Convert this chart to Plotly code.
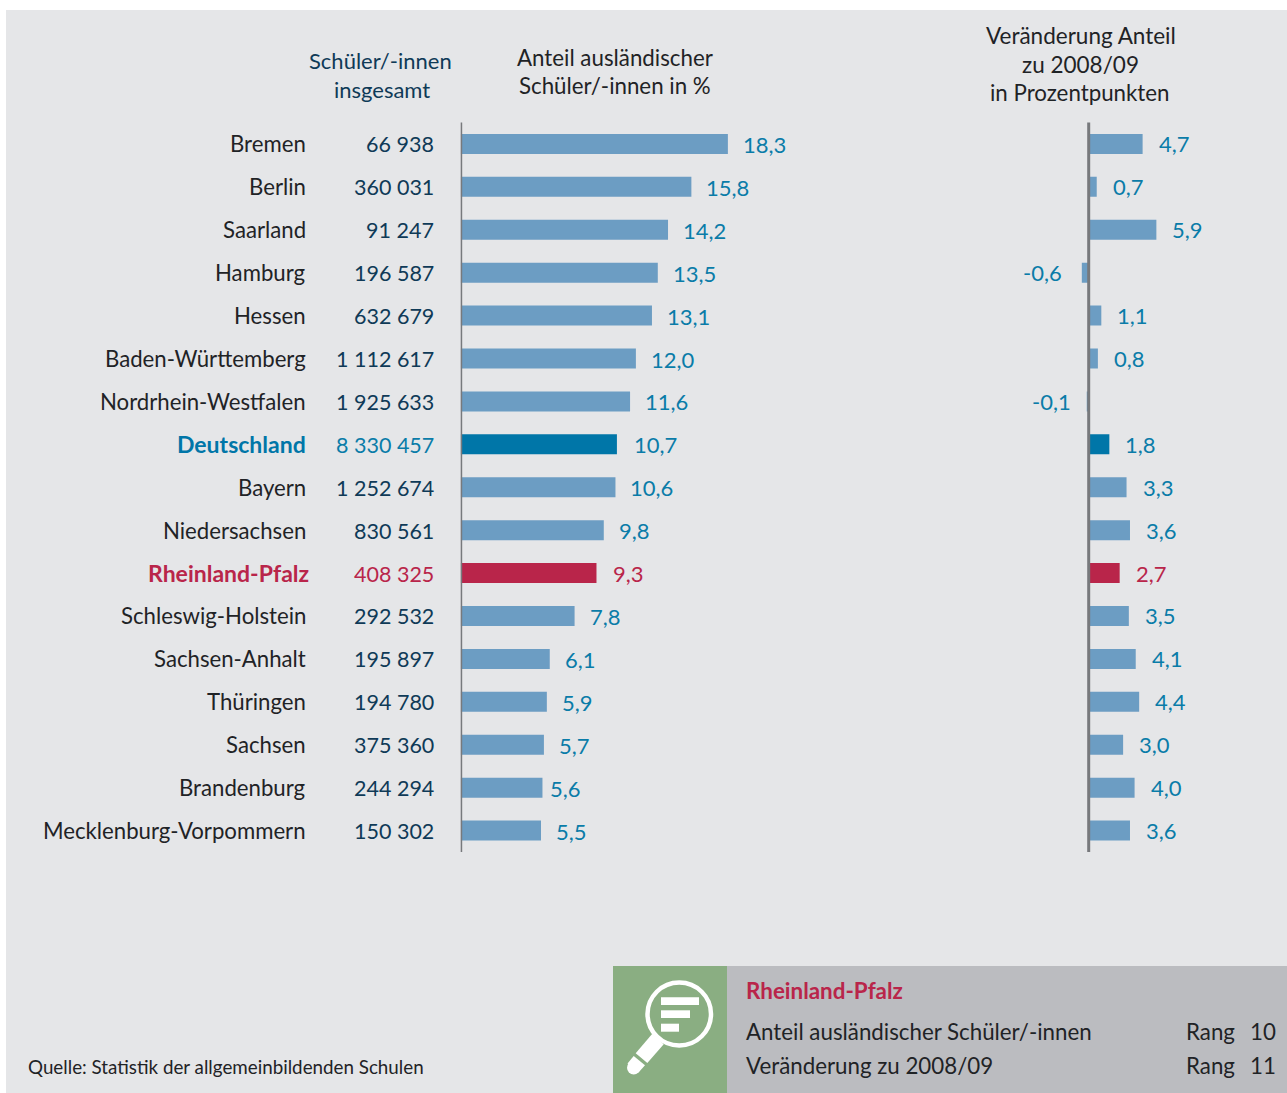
import plotly.graph_objects as go

states = ["Bremen", "Berlin", "Saarland", "Hamburg", "Hessen", "Baden-Württemberg", "Nordrhein-Westfalen",
          "Deutschland", "Bayern", "Niedersachsen", "Rheinland-Pfalz", "Schleswig-Holstein", "Sachsen-Anhalt",
          "Thüringen", "Sachsen", "Brandenburg", "Mecklenburg-Vorpommern"]
totals = ["66 938", "360 031", "91 247", "196 587", "632 679", "1 112 617", "1 925 633", "8 330 457", "1 252 674",
          "830 561", "408 325", "292 532", "195 897", "194 780", "375 360", "244 294", "150 302"]
shares = [18.3, 15.8, 14.2, 13.5, 13.1, 12.0, 11.6, 10.7, 10.6, 9.8, 9.3, 7.8, 6.1, 5.9, 5.7, 5.6, 5.5]
changes = [4.7, 0.7, 5.9, -0.6, 1.1, 0.8, -0.1, 1.8, 3.3, 3.6, 2.7, 3.5, 4.1, 4.4, 3.0, 4.0, 3.6]

W, H = 1287, 1093
FONT = "Lato"
BLUE, DE, RP = "#6c9dc3", "#0076a8", "#b9254a"
INK, NAVY, TEAL = "#1f2326", "#0f3a57", "#0a7ca8"
GREY = "#77797c"
GREEN = "#8aae82"


def px(x):
    return x / W


def py(y):
    return 1 - y / H


def fmt(v):
    return f"{v:.1f}".replace(".", ",")


bar_colors = [DE if s == "Deutschland" else RP if s == "Rheinland-Pfalz" else BLUE for s in states]

fig = go.Figure()
fig.add_bar(y=states, x=shares, orientation="h", marker=dict(color=bar_colors, line_width=0),
            xaxis="x", yaxis="y", hoverinfo="skip")
fig.add_bar(y=states, x=changes, orientation="h", marker=dict(color=bar_colors, line_width=0),
            xaxis="x2", yaxis="y", hoverinfo="skip")

ann = []


def paper_text(x, y, text, color=INK, size=22.5, anchor="right"):
    ann.append(dict(xref="paper", yref="paper", x=px(x), y=py(y), text=text, showarrow=False, xanchor=anchor,
                    yanchor="middle", font=dict(family=FONT, size=size, color=color)))


for s, t, a, c in zip(states, totals, shares, changes):
    special = s in ("Deutschland", "Rheinland-Pfalz")
    col = RP if s == "Rheinland-Pfalz" else DE if s == "Deutschland" else None
    name_x = 311 if s == "Rheinland-Pfalz" else 308
    ann.append(dict(xref="paper", yref="y", x=px(name_x), y=s, text=f"<b>{s}</b>" if special else s, showarrow=False,
                    xanchor="right", yanchor="middle",
                    font=dict(family=FONT, size=23 if special else 22.2, color=col or INK)))
    ann.append(dict(xref="paper", yref="y", x=px(435.5), y=s, text=t, showarrow=False,
                    xanchor="right", yanchor="middle", yshift=-0.5,
                    font=dict(family=FONT, size=21.5, color=RP if s == "Rheinland-Pfalz" else TEAL if s == "Deutschland" else NAVY)))
    val_col = RP if s == "Rheinland-Pfalz" else TEAL
    left_shift = 6 if s == "Brandenburg" else 15 if special else 13
    ann.append(dict(xref="x", yref="y", x=a, y=s, text=fmt(a), showarrow=False, xanchor="left", yanchor="middle",
                    xshift=left_shift, yshift=-0.5, font=dict(family=FONT, size=22, color=val_col)))
    neg_shift = -14.5 if c > -0.3 else -17.5
    ann.append(dict(xref="x2", yref="y", x=c, y=s, text=fmt(c), showarrow=False,
                    xanchor="left" if c >= 0 else "right", yanchor="middle", xshift=14 if c >= 0 else neg_shift,
                    yshift=0, font=dict(family=FONT, size=22, color=val_col)))

paper_text(380.5, 60, "Schüler/-innen", NAVY, 22, "center")
paper_text(381.5, 90, "insgesamt", NAVY, 22, "center")
paper_text(615, 57.5, "Anteil ausländischer", INK, 22.3, "center")
paper_text(615, 86, "Schüler/-innen in %", INK, 22.3, "center")
paper_text(1081, 35.5, "Veränderung Anteil", INK, 22.5, "center")
paper_text(1080.5, 65, "zu 2008/09", INK, 22.5, "center")
paper_text(1080, 92.5, "in Prozentpunkten", INK, 22.3, "center")
paper_text(26, 1066, "Quelle: Statistik der allgemeinbildenden Schulen", INK, 18.8, "left")
paper_text(744, 990, "<b>Rheinland-Pfalz</b>", RP, 22.4, "left")
paper_text(744, 1031, "Anteil ausländischer Schüler/-innen", INK, 22.3, "left")
paper_text(744, 1065, "Veränderung zu 2008/09", INK, 22.3, "left")
paper_text(1184, 1031, "Rang", INK, 22.3, "left")
paper_text(1184, 1065, "Rang", INK, 22.3, "left")
paper_text(1278, 1031, "10", INK, 22.3, "right")
paper_text(1278, 1065, "11", INK, 22.3, "right")


def rect(x0, y0, x1, y1, color, layer="below"):
    return dict(type="rect", xref="paper", yref="paper", x0=px(x0), x1=px(x1), y0=py(y0), y1=py(y1),
                fillcolor=color, line_width=0, layer=layer)


def poly(points):
    d = "M " + " L ".join(f"{px(x)} {py(y)}" for x, y in points) + " Z"
    return dict(type="path", xref="paper", yref="paper", layer="above", fillcolor="white", line_width=0, path=d)


LEFT0, LEFT_K = 460.7, 14.6
RIGHT0, RIGHT_K = 1088.7, 11.47
lr = (0, 20)
rr = (-2, 8)
Y_TOP, Y_BOTTOM = 122.5, 852

shapes = [
    rect(6, 10, 1287, 1093, "#e5e6e8"),
    rect(613, 966, 727, 1093, GREEN),
    rect(727, 966, 1287, 1093, "#bbbcc0"),
    # magnifier icon
    poly([(652.3, 1033.7), (663.7, 1044.3), (647.3, 1063), (635.7, 1053.3)]),
    poly([(633.7, 1056), (645, 1065.3), (638.5, 1072.6), (627.5, 1063.5)]),
    dict(type="circle", xref="paper", yref="paper", layer="above", x0=px(627), x1=px(640.4), y0=py(1061), y1=py(1074.4),
         fillcolor="white", line_width=0),
    dict(type="circle", xref="paper", yref="paper", layer="above", x0=px(647.5), x1=px(711), y0=py(982.5), y1=py(1045.5),
         fillcolor=GREEN, line=dict(color="white", width=4.5)),
    rect(661, 997.3, 699, 1005, "white", "above"),
    rect(661, 1010.3, 690, 1018, "white", "above"),
    rect(661, 1023.7, 679, 1031.7, "white", "above"),
    # vertical base lines drawn at each chart's zero
    dict(type="line", xref="x", yref="paper", x0=0, x1=0, y0=py(Y_BOTTOM), y1=py(Y_TOP), layer="above",
         line=dict(color=GREY, width=3)),
    dict(type="line", xref="x2", yref="paper", x0=0, x1=0, y0=py(Y_BOTTOM), y1=py(Y_TOP), layer="above",
         line=dict(color=GREY, width=3)),
]

axis_common = dict(showgrid=False, showticklabels=False, ticks="", showline=False, zeroline=False, fixedrange=True)
fig.update_layout(
    width=W, height=H, margin=dict(l=0, r=0, t=0, b=0), showlegend=False,
    paper_bgcolor="white", plot_bgcolor="rgba(0,0,0,0)", barmode="overlay", bargap=0.534,
    font=dict(family=FONT), annotations=ann, shapes=shapes,
    xaxis=dict(domain=[px(LEFT0 + lr[0] * LEFT_K), px(LEFT0 + lr[1] * LEFT_K)], range=list(lr), anchor="y", **axis_common),
    xaxis2=dict(domain=[px(RIGHT0 + rr[0] * RIGHT_K), px(RIGHT0 + rr[1] * RIGHT_K)], range=list(rr), anchor="y", **axis_common),
    yaxis=dict(domain=[py(Y_BOTTOM), py(Y_TOP)], type="category", categoryorder="array", categoryarray=states,
               range=[len(states) - 0.5, -0.5], showgrid=False, showticklabels=False, ticks="", showline=False,
               zeroline=False, fixedrange=True),
)
fig.write_html("out.html", config=dict(displayModeBar=False),
               post_script="document.body.style.margin='0';document.documentElement.style.overflow='hidden';")
